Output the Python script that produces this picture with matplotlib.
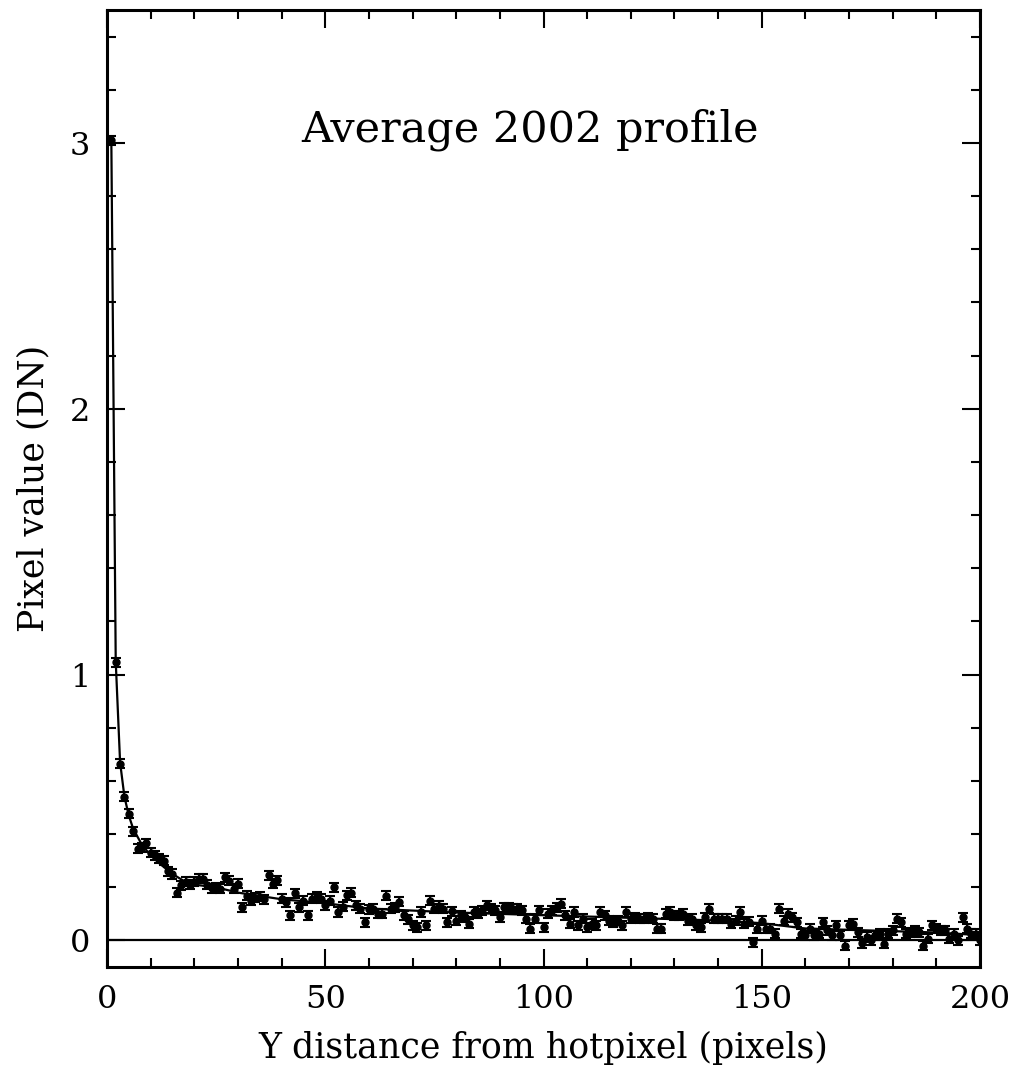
import numpy as np
import matplotlib
matplotlib.use("Agg")
import matplotlib.pyplot as plt
from matplotlib.ticker import MultipleLocator

# -------------------- DATA --------------------
dist = np.arange(1, 201)

pixel_value = [
    3.01, 1.047, 0.665, 0.54, 0.477, 0.41, 0.345, 0.35, 0.366, 0.33,
    0.32, 0.31, 0.30, 0.26, 0.25, 0.18, 0.207, 0.22, 0.21, 0.22,
    0.233, 0.233, 0.21, 0.196, 0.20, 0.195, 0.238, 0.225, 0.195, 0.213,
    0.125, 0.169, 0.15, 0.16, 0.165, 0.155, 0.245, 0.213, 0.226, 0.157,
    0.144, 0.094, 0.178, 0.125, 0.15, 0.094, 0.157, 0.165, 0.157, 0.132,
    0.15, 0.20, 0.107, 0.127, 0.17, 0.18, 0.133, 0.12, 0.069, 0.117,
    0.12, 0.10, 0.10, 0.169, 0.12, 0.125, 0.145, 0.094, 0.08, 0.057,
    0.05, 0.107, 0.057, 0.15, 0.12, 0.13, 0.12, 0.069, 0.11, 0.075,
    0.094, 0.088, 0.063, 0.107, 0.10, 0.113, 0.132, 0.12, 0.113, 0.088,
    0.125, 0.125, 0.12, 0.12, 0.113, 0.082, 0.044, 0.082, 0.113, 0.05,
    0.10, 0.113, 0.125, 0.138, 0.094, 0.063, 0.107, 0.057, 0.082, 0.05,
    0.063, 0.057, 0.107, 0.094, 0.075, 0.069, 0.075, 0.057, 0.107, 0.082,
    0.088, 0.082, 0.082, 0.088, 0.082, 0.044, 0.044, 0.10, 0.107, 0.094,
    0.094, 0.10, 0.075, 0.082, 0.057, 0.05, 0.088, 0.12, 0.082, 0.082,
    0.082, 0.082, 0.063, 0.075, 0.107, 0.063, 0.07, -0.006, 0.044, 0.075,
    0.044, 0.044, 0.025, 0.12, 0.075, 0.10, 0.088, 0.069, 0.025, 0.019,
    0.044, 0.019, 0.025, 0.069, 0.038, 0.019, 0.057, 0.019, -0.019, 0.057,
    0.063, 0.03, -0.01, 0.013, 0.0, 0.019, 0.025, -0.013, 0.025, 0.038,
    0.082, 0.069, 0.025, 0.031, 0.038, 0.031, -0.019, 0.006, 0.057, 0.044,
    0.038, 0.038, 0.006, 0.025, 0.0, 0.088, 0.044, 0.025, 0.025, 0.0,
]
pixel_err = 0.017

# fitted profile, sampled at a few distances
fit_x = [1, 2, 3, 4, 5, 6, 8, 10, 12, 15, 18, 20, 25, 30, 40, 50, 60, 80,
         100, 120, 140, 150, 160, 180, 190, 200]
fit_y = [3.0, 1.05, 0.67, 0.54, 0.47, 0.42, 0.36, 0.32, 0.29, 0.25, 0.22,
         0.21, 0.20, 0.18, 0.155, 0.14, 0.12, 0.105, 0.095, 0.085, 0.075,
         0.065, 0.045, 0.035, 0.03, 0.02]

# -------------------- PLOT --------------------
plt.rcParams["font.family"] = "DejaVu Serif"

fig = plt.figure(figsize=(10.18, 10.72), dpi=100)
ax = fig.add_axes([0.1051, 0.0979, 0.8576, 0.8928])

ax.axhline(0, color="black", lw=1.6)
ax.plot(fit_x, fit_y, color="black", lw=1.6)
ax.errorbar(dist, pixel_value, yerr=pixel_err, fmt="o", color="black",
            ms=5, elinewidth=1.4, capsize=3.5, capthick=1.5)

ax.text(97, 3.05, "Average 2002 profile", ha="center", va="center", fontsize=31)

ax.set_xlim(0, 200)
ax.set_ylim(-0.1, 3.5)
ax.xaxis.set_major_locator(MultipleLocator(50))
ax.xaxis.set_minor_locator(MultipleLocator(10))
ax.yaxis.set_major_locator(MultipleLocator(1))
ax.yaxis.set_minor_locator(MultipleLocator(0.2))
ax.tick_params(which="both", direction="in", top=True, right=True,
               width=1.5, labelsize=23, pad=12)
ax.tick_params(which="major", length=13)
ax.tick_params(which="minor", length=6.5)
for s in ax.spines.values():
    s.set_linewidth(2.2)

ax.set_xlabel("Y distance from hotpixel (pixels)", fontsize=25, labelpad=12)
ax.set_ylabel("Pixel value (DN)", fontsize=25, labelpad=14)

fig.savefig("out.png", dpi=100)
